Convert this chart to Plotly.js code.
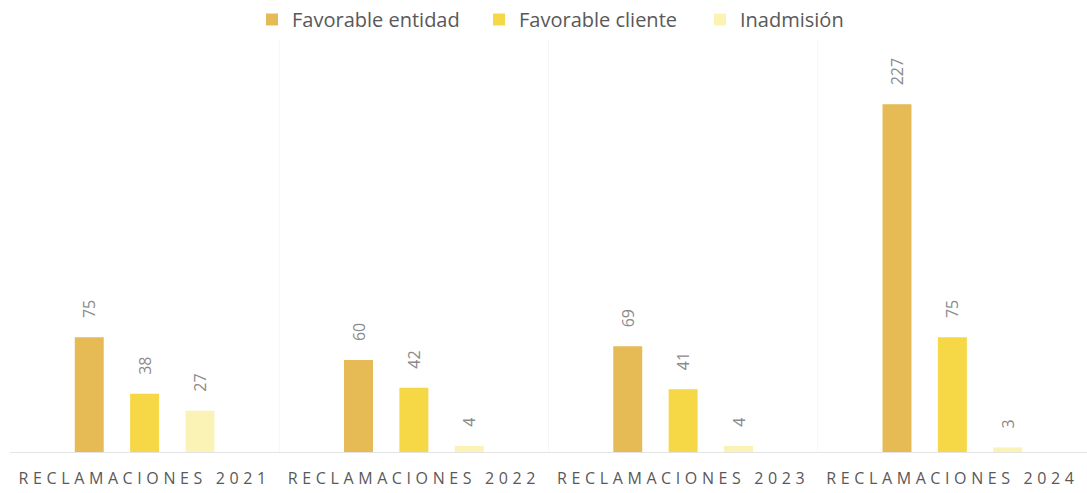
<!DOCTYPE html>
<html>
<head>
<meta charset="utf-8">
<script src="https://cdn.plot.ly/plotly-3.0.1.min.js"></script>
<style>
body{margin:0;background:#fff;}
.xtick text{letter-spacing:4.6px;}
</style>
</head>
<body>
<div id="chart" style="width:1087px;height:493px;"></div>
<script>
const categories = ["RECLAMACIONES 2021","RECLAMACIONES 2022","RECLAMACIONES 2023","RECLAMACIONES 2024"];
const favorableEntidad = [75, 60, 69, 227];
const favorableCliente = [38, 42, 41, 75];
const inadmision = [27, 4, 4, 3];

function mk(name, vals, color, leg){
  return {
    type:'bar', name:name, x:categories, y:vals, legend:leg,
    marker:{color:color},
    text:vals.map(String), texttemplate:'\u2002\u2002%{text}', textposition:'outside', textangle:-90,
    constraintext:'none',
    textfont:{family:'Open Sans, sans-serif', size:16, color:'#8a8a8a'},
    cliponaxis:false, hoverinfo:'none'
  };
}
const data = [
  mk('Favorable entidad', favorableEntidad, '#E6BA55', 'legend'),
  mk('Favorable cliente', favorableCliente, '#F6D746', 'legend2'),
  mk('Inadmisión', inadmision, '#FBF2B6', 'legend3')
];
function leg(px){
  return {orientation:'h', x:px/1087, xanchor:'left', xref:'container', y:1.0, yanchor:'top', yref:'container',
    font:{family:'Open Sans, sans-serif', size:20, color:'#595959'}, itemwidth:30, bgcolor:'rgba(0,0,0,0)'};
}
const layout = {
  width:1087, height:493,
  margin:{l:10, r:0, t:40, b:41},
  paper_bgcolor:'#fff', plot_bgcolor:'#fff',
  barmode:'group', bargap:0.383, bargroupgap:0.477,
  showlegend:true,
  legend:leg(252), legend2:leg(479), legend3:leg(700),
  xaxis:{type:'category', showgrid:false, showline:true, linecolor:'#e4e4e4', linewidth:1,
    ticks:'', ticklabelstandoff:12, tickfont:{family:'Open Sans, sans-serif', size:16, color:'#595959'}, zeroline:false},
  yaxis:{range:[0,269], visible:false, showgrid:false, zeroline:false},
  shapes:[1,2,3].map(i=>({type:'line', xref:'x', yref:'paper', x0:i-0.5, x1:i-0.5, y0:0, y1:1,
    line:{color:'#f6f6f6', width:1}}))
};
Plotly.newPlot('chart', data, layout, {displayModeBar:false, staticPlot:true});
</script>
</body>
</html>
